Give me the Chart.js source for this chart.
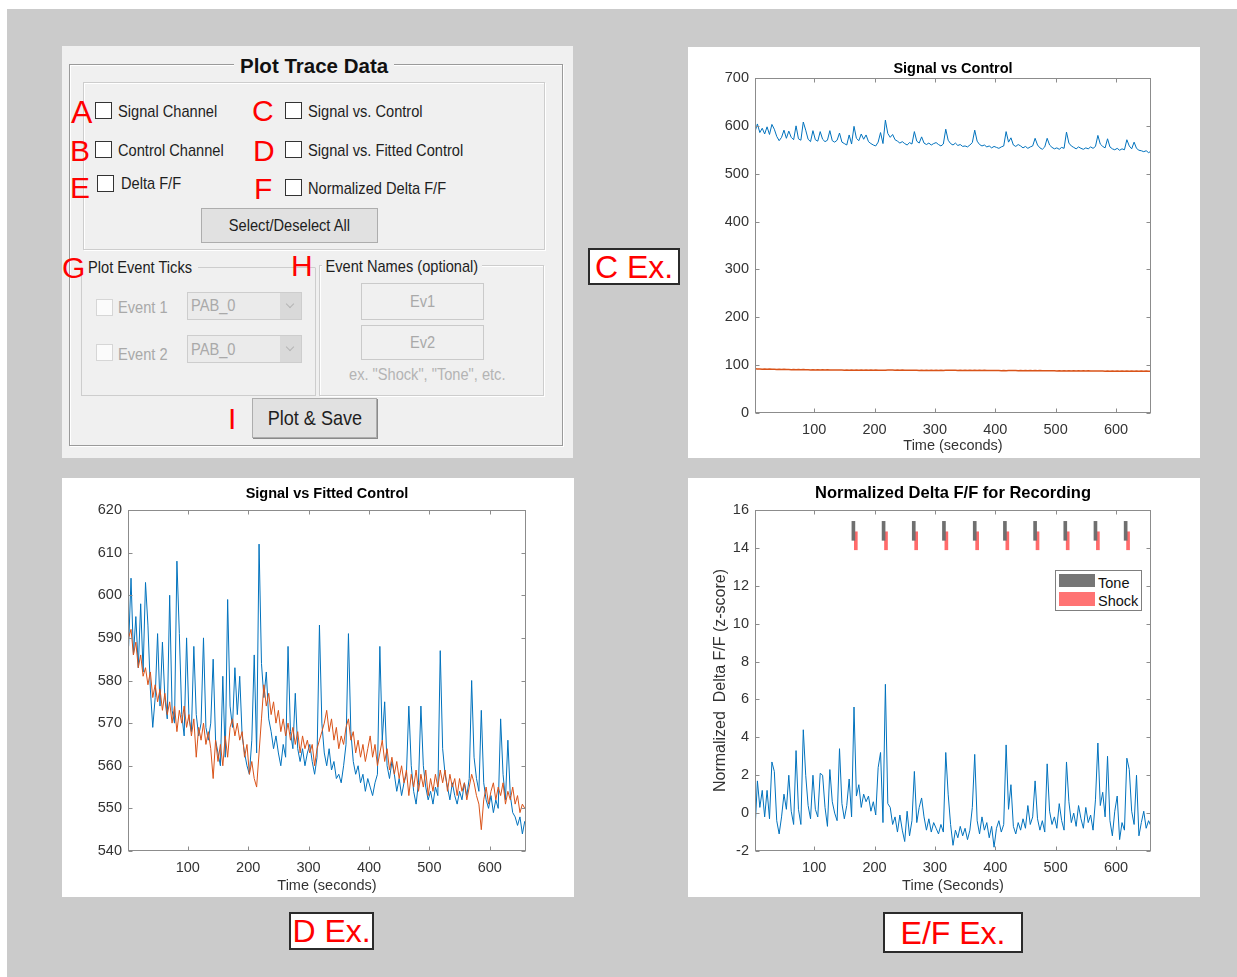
<!DOCTYPE html>
<html>
<head>
<meta charset="utf-8">
<script src="https://cdn.jsdelivr.net/npm/chart.js@4.4.1/dist/chart.umd.min.js"></script>
<style>
  html, body { margin: 0; padding: 0; }
  body { width: 1237px; height: 977px; position: relative; overflow: hidden; background: #fff;
         font-family: "Liberation Sans", Arial, Helvetica, sans-serif; }
  .abs { position: absolute; }
  #bg { left: 7px; top: 9px; width: 1230px; height: 968px; background: #cbcbcb; }
  .panel { background: #fff; }
  .panel canvas { display: block; }
  .gui { background: #f0f0f0; }
  .frame { position: absolute; border: 1px solid #9a9a9a; box-shadow: inset 1px 1px 0 #fff, 1px 1px 0 #fff; }
  .grp { position: absolute; border: 1px solid #cdcdcd; box-shadow: inset 1px 1px 0 #fff, 1px 1px 0 #fff; }
  .line { position: absolute; background: #cdcdcd; height: 1px; }
  .t { position: absolute; font-size: 17px; line-height: 17px; white-space: nowrap; color: #1e1e1e;
       transform: scaleX(.86); transform-origin: 0 0; }
  .gray { color: #a9a9a9; }
  .ltr { position: absolute; font-size: 30px; line-height: 30px; color: #f00; }
  .cb { position: absolute; width: 15px; height: 15px; border: 1px solid #333; background: #fff; }
  .cb.off { border-color: #d6d6d6; background: #fbfbfb; }
  .btn { position: absolute; box-sizing: border-box; display: flex; align-items: center; justify-content: center;
         background: #e1e1e1; border: 1px solid #adadad; }
  .btn span { display: inline-block; font-size: 17px; transform: scaleX(.86); color: #1e1e1e; white-space: nowrap; }
  .btn.dis { background: #f0f0f0; border-color: #cacaca; }
  .btn.dis span { color: #a9a9a9; }
  .dd { position: absolute; box-sizing: border-box; background: #ebebeb; border: 1px solid #cdcdcd; }
  .dd .arr { position: absolute; right: 0; top: 0; width: 21px; height: 100%; background: #d9d9d9; }
  .dd .chev { position: absolute; right: 8px; top: 8px; width: 5px; height: 5px;
              border-right: 1px solid #b5b5b5; border-bottom: 1px solid #b5b5b5; transform: rotate(45deg); }
  .exbox { position: absolute; box-sizing: border-box; border: 2px solid #2b2b2b; background: #fff;
           display: flex; align-items: center; justify-content: center; color: #f00; font-size: 32px; line-height: 32px; }
  #legend { left: 1055px; top: 570px; width: 87px; height: 41px; box-sizing: border-box;
            border: 1px solid #7f7f7f; background: #fff; }
  #legend .sw { position: absolute; left: 3px; width: 36px; }
  #legend .lt { position: absolute; left: 42px; font-size: 14.5px; line-height: 14.5px; color: #111; }
</style>
</head>
<body>
<div id="bg" class="abs"></div>

<!-- GUI panel -->
<div class="abs gui" style="left:62px;top:46px;width:511px;height:412px"></div>
<div class="frame" style="left:69px;top:64px;width:492px;height:380px"></div>
<div class="abs" style="left:234px;top:56px;padding:0 6px;background:#f0f0f0;font-weight:bold;font-size:20.5px;line-height:20.5px;color:#111">Plot Trace Data</div>
<div class="grp" style="left:83px;top:82px;width:460px;height:166px"></div>

<div class="ltr" style="left:71px;top:95.8px;font-size:32px;line-height:32px">A</div>
<div class="ltr" style="left:70px;top:136px">B</div>
<div class="ltr" style="left:70px;top:173px">E</div>
<div class="ltr" style="left:252px;top:96px">C</div>
<div class="ltr" style="left:253px;top:136px">D</div>
<div class="ltr" style="left:254px;top:174px">F</div>

<div class="cb" style="left:95px;top:102px"></div>
<div class="cb" style="left:95px;top:141px"></div>
<div class="cb" style="left:97px;top:175px"></div>
<div class="cb" style="left:285px;top:102px"></div>
<div class="cb" style="left:285px;top:141px"></div>
<div class="cb" style="left:285px;top:179px"></div>

<div class="t" style="left:118px;top:102.6px">Signal Channel</div>
<div class="t" style="left:118px;top:141.6px">Control Channel</div>
<div class="t" style="left:121px;top:175px">Delta F/F</div>
<div class="t" style="left:308px;top:102.6px">Signal vs. Control</div>
<div class="t" style="left:308px;top:141.6px">Signal vs. Fitted Control</div>
<div class="t" style="left:308px;top:179.6px">Normalized Delta F/F</div>

<div class="btn" style="left:201px;top:208px;width:177px;height:35px"><span>Select/Deselect All</span></div>

<!-- event ticks group -->
<div class="grp" style="left:81px;top:267px;width:233px;height:127px;border-top-color:transparent;box-shadow:none"></div>
<div class="line" style="left:198px;top:267px;width:117px"></div>
<div class="ltr" style="left:62px;top:253px">G</div>
<div class="t" style="left:88px;top:258.6px">Plot Event Ticks</div>
<div class="cb off" style="left:96px;top:299px"></div>
<div class="cb off" style="left:96px;top:344px"></div>
<div class="t gray" style="left:118px;top:298.6px">Event 1</div>
<div class="t gray" style="left:118px;top:345.6px">Event 2</div>
<div class="dd" style="left:187px;top:292px;width:115px;height:28px"><div class="arr"></div><div class="chev"></div></div>
<div class="dd" style="left:187px;top:335px;width:115px;height:28px"><div class="arr"></div><div class="chev"></div></div>
<div class="t gray" style="left:191px;top:297px">PAB_0</div>
<div class="t gray" style="left:191px;top:340.6px">PAB_0</div>

<!-- event names group -->
<div class="grp" style="left:319px;top:265px;width:223px;height:129px"></div>
<div class="ltr" style="left:291px;top:251px">H</div>
<div class="t" style="left:322px;top:257.6px;background:#f0f0f0;padding:0 4px">Event Names (optional)</div>
<div class="btn dis" style="left:361px;top:283px;width:123px;height:37px"><span>Ev1</span></div>
<div class="btn dis" style="left:361px;top:325px;width:123px;height:35px"><span>Ev2</span></div>
<div class="t" style="left:349px;top:365.6px;color:#b4b4b4">ex. "Shock", "Tone", etc.</div>

<div class="ltr" style="left:228px;top:404px">I</div>
<div class="btn" style="left:252px;top:398px;width:125px;height:40px;box-shadow:1px 1px 0 #8a8a8a"><span style="font-size:21px">Plot &amp; Save</span></div>

<!-- charts -->
<div class="abs panel" style="left:688px;top:47px;width:512px;height:411px"><canvas id="c1" width="512" height="411"></canvas></div>
<div class="abs panel" style="left:62px;top:478px;width:512px;height:419px"><canvas id="c2" width="512" height="419"></canvas></div>
<div class="abs panel" style="left:688px;top:478px;width:512px;height:419px"><canvas id="c3" width="512" height="419"></canvas></div>

<div id="legend" class="abs">
  <div class="sw" style="top:3px;height:13px;background:#767676"></div>
  <div class="sw" style="top:21px;height:14px;background:#ff7373"></div>
  <div class="lt" style="top:4.7px">Tone</div>
  <div class="lt" style="top:22.7px">Shock</div>
</div>

<div class="exbox" style="left:588px;top:248px;width:92px;height:37px">C Ex.</div>
<div class="exbox" style="left:289px;top:912px;width:85px;height:38px">D Ex.</div>
<div class="exbox" style="left:883px;top:912px;width:140px;height:41px">E/F Ex.</div>

<script>
// sample times (s)
const TIME = [2,6,10,14,18,22,26,30,34,38,
  42,46,50,54,58,62,66,70,74,78,
  82,86,90,94,98,102,106,110,114,118,
  122,126,130,134,138,142,146,150,154,158,
  162,166,170,174,178,182,186,190,194,198,
  202,206,210,214,218,222,226,230,234,238,
  242,246,250,254,258,262,266,270,274,278,
  282,286,290,294,298,302,306,310,314,318,
  322,326,330,334,338,342,346,350,354,358,
  362,366,370,374,378,382,386,390,394,398,
  402,406,410,414,418,422,426,430,434,438,
  442,446,450,454,458,462,466,470,474,478,
  482,486,490,494,498,502,506,510,514,518,
  522,526,530,534,538,542,546,550,554,558,
  562,566,570,574,578,582,586,590,594,598,
  602,606,610,614,618,622,626,630,634,638,
  642,646,650,654,658];

// signal channel
const SIGNAL = [588,604,586,595,583,598,582,603,593,578,
  569,576,591,574,589,576,571,600,573,570,
  608,591,572,567,590,571,568,588,572,567,
  570,590,569,566,570,585,566,563,560,581,
  562,599,574,569,583,572,581,567,563,560,
  558,566,586,563,612,584,576,582,571,568,
  564,567,563,560,565,562,588,568,564,577,
  564,561,564,560,563,565,561,558,562,593,
  570,563,560,564,559,561,557,558,556,560,
  565,591,568,561,558,560,556,558,554,557,
  555,553,556,558,588,566,575,560,557,561,
  558,554,557,553,556,558,574,560,554,551,
  556,574,560,555,552,554,551,555,553,587,
  564,558,555,552,556,553,551,554,552,556,
  553,557,580,562,557,554,573,556,552,550,
  553,549,552,550,571,558,552,566,553,549,
  548,546,548,544,547];

// control channel (raw)
const CONTROL = [92.3,91.8,92.1,91.6,91.9,91.4,91.7,91.2,91.5,91.0,
  91.3,90.9,91.2,90.7,91.0,90.6,90.9,90.4,90.8,90.3,
  90.7,90.2,90.6,90.1,90.5,90.0,90.4,89.9,90.3,89.8,
  90.2,89.8,90.1,89.7,90.0,89.6,89.9,89.5,89.9,89.4,
  89.8,89.4,89.8,89.3,89.7,89.3,89.7,89.2,89.6,89.2,
  89.6,89.1,89.5,89.1,89.5,89.9,89.6,89.8,89.4,89.7,
  89.3,89.6,89.2,89.5,89.1,89.5,89.1,89.4,89.0,89.4,
  89.0,89.3,88.9,89.3,88.9,89.2,88.8,89.2,88.8,89.1,
  89.2,89.5,89.1,89.4,89.0,89.3,88.9,89.3,88.9,89.2,
  88.8,89.2,88.8,89.1,88.7,89.1,88.7,89.0,88.6,89.0,
  88.6,88.9,88.5,88.9,88.5,88.8,89.0,88.7,88.9,88.5,
  88.8,88.4,88.7,88.3,88.7,88.3,88.6,88.2,88.6,88.2,
  88.5,88.1,88.5,88.1,88.4,88.0,88.4,88.0,88.3,87.9,
  88.3,87.9,88.2,87.8,88.2,87.8,88.1,87.7,88.1,87.7,
  88.0,87.6,88.0,87.6,87.9,87.5,87.9,87.5,87.8,87.4,
  87.8,87.4,87.7,87.3,87.7,87.3,87.6,87.2,87.6,87.2,
  87.5,87.1,87.5,87.1,87.4];

// fitted control
const FITTED = [590,592,586,589,583,586,581,583,579,582,
  576,579,575,578,573,577,572,575,570,574,
  568,573,570,574,569,572,567,571,562,569,
  566,570,565,568,564,557,566,561,565,560,
  567,562,569,571,567,570,566,568,562,565,
  558,561,557,555,563,571,579,574,577,572,
  575,570,573,568,571,567,570,566,569,565,
  568,563,567,564,566,563,565,560,564,566,
  568,570,573,568,571,566,569,564,567,565,
  569,571,566,568,563,566,562,565,561,564,
  567,562,565,560,563,566,561,564,559,562,
  558,561,557,560,556,559,553,558,555,559,
  554,558,555,559,553,557,554,558,555,559,
  556,559,554,558,555,557,553,557,554,556,
  552,555,558,556,553,551,545,552,555,551,
  554,556,552,555,553,556,551,554,552,555,
  551,553,549,551,550];

// normalized delta F/F (z-score)
const ZSCORE = [-0.9,1.7,0.3,1.2,-0.2,1.2,-0.3,2.7,2.2,-0.4,
  -1.1,-0.2,1.0,0.2,2.0,0.1,-0.6,3.3,0.2,-0.6,
  4.4,2.0,0.4,-0.3,2.0,0.2,-0.2,2.1,2.0,0.3,
  -0.7,2.3,0.6,0.0,-0.4,3.4,0.5,-0.3,0.4,1.8,
  -0.2,5.6,0.9,1.5,0.3,1.0,0.6,0.9,0.1,0.6,
  -0.1,2.4,3.2,-0.5,6.8,0.5,0.3,-0.6,-0.2,-1.0,
  -0.1,-0.9,-1.5,0.1,-1.2,-0.4,2.2,-0.5,0.3,0.8,
  -0.2,-0.9,-0.3,-1.0,-0.5,-0.8,-1.1,-0.6,-1.0,3.2,
  1.0,-0.6,-1.7,-0.9,-1.3,-0.7,-1.2,-0.8,-1.4,-0.9,
  0.3,3.1,-0.4,-1.1,-0.2,-0.9,-0.5,-1.3,-0.7,-1.8,
  -0.8,-0.4,-1.0,-0.6,3.6,0.2,1.5,-0.7,-1.1,-0.5,
  -0.9,-0.3,-0.8,0.4,-0.6,-0.2,1.7,-0.3,-0.9,-0.4,
  -1.0,2.6,0.1,-0.6,-0.2,-0.8,0.5,-0.4,-0.9,2.7,
  0.6,-0.5,0.0,-0.7,0.4,-0.3,-0.8,0.3,-0.5,-0.1,
  -0.9,0.7,3.7,0.4,1.1,-0.2,3.0,-0.4,-1.2,0.1,
  0.9,-1.4,-0.5,-0.9,2.9,2.3,0.1,-0.6,2.0,-1.2,
  -0.5,0.1,-0.8,-0.4,-0.7];

// event epochs (s)
const TONE_ON   = [163,213,263,313,364,414,464,514,564,614];
const TONE_OFF  = [167,217,267,317,368,418,468,518,568,618];
const SHOCK_ON  = [167,217,267,317,368,418,468,518,568,618];
const SHOCK_OFF = [171,221,271,321,372,422,472,522,572,622];

const X_TICKS  = [100,200,300,400,500,600];
const Y_TICKS1 = [0,100,200,300,400,500,600,700];
const Y_TICKS2 = [540,550,560,570,580,590,600,610,620];
const Y_TICKS3 = [-2,0,2,4,6,8,10,12,14,16];

const BLUE = '#0072BD';
const ORANGE = '#D95319';
const TEXT = '#333';

Chart.defaults.font.family = '"Liberation Sans", Arial, Helvetica, sans-serif';
Chart.defaults.color = TEXT;

function timeSeries(values) {
  return TIME.map((t, i) => ({ x: t, y: values[i] }));
}

function fixedTicks(list) {
  return scale => { scale.ticks = list.map(v => ({ value: v })); };
}

// matlab style box with inward ticks on all four sides
const matlabBox = {
  id: 'matlabBox',
  afterDatasetsDraw(chart) {
    const { ctx, chartArea: a, scales: { x, y } } = chart;
    const L = Math.round(a.left) + 0.5, R = Math.round(a.right) - 0.5;
    const T = Math.round(a.top) + 0.5, B = Math.round(a.bottom) - 0.5;
    ctx.save();
    ctx.strokeStyle = '#8c8c8c';
    ctx.lineWidth = 1;
    ctx.strokeRect(L, T, R - L, B - T);
    ctx.beginPath();
    x.ticks.forEach(t => {
      const px = Math.round(x.getPixelForValue(t.value)) + 0.5;
      ctx.moveTo(px, B); ctx.lineTo(px, B - 4);
      ctx.moveTo(px, T); ctx.lineTo(px, T + 4);
    });
    y.ticks.forEach(t => {
      const py = Math.round(y.getPixelForValue(t.value)) + 0.5;
      ctx.moveTo(L, py); ctx.lineTo(L + 4, py);
      ctx.moveTo(R, py); ctx.lineTo(R - 4, py);
    });
    ctx.stroke();
    ctx.restore();
  }
};

function options(o) {
  return {
    responsive: false,
    animation: false,
    events: [],
    layout: { padding: { left: 0, right: o.padRight, top: 0, bottom: 0 } },
    plugins: {
      legend: { display: false },
      tooltip: { enabled: false },
      title: {
        display: true, text: o.title, color: '#000', fullSize: false,
        font: { size: o.titleSize, weight: 'bold' },
        padding: { top: o.titleTop, bottom: o.titleBottom }
      }
    },
    scales: {
      x: {
        type: 'linear', min: o.xMin, max: o.xMax, bounds: 'data', offset: false,
        afterBuildTicks: fixedTicks(X_TICKS),
        afterFit: s => { s.height = o.xHeight; },
        grid: { display: false, drawTicks: false },
        border: { display: false },
        ticks: { padding: 8, color: TEXT, font: { size: 14.5 }, maxRotation: 0, autoSkip: false },
        title: { display: true, text: o.xTitle, color: TEXT, font: { size: 14.5 },
                 padding: { top: 0, bottom: o.xTitlePad } }
      },
      y: {
        type: 'linear', min: o.yTicks[0], max: o.yTicks[o.yTicks.length - 1], bounds: 'data',
        afterBuildTicks: fixedTicks(o.yTicks),
        afterFit: s => { s.width = o.yWidth; },
        grid: { display: false, drawTicks: false },
        border: { display: false },
        ticks: { padding: 6, color: TEXT, font: { size: 14.5 } },
        title: o.yTitle
          ? { display: true, text: o.yTitle, color: TEXT, font: { size: 16 }, padding: { top: o.yTitlePad, bottom: 0 } }
          : { display: false }
      }
    }
  };
}

function line(label, values, color, width) {
  return { type: 'line', label, data: timeSeries(values), borderColor: color, borderWidth: width,
           pointRadius: 0, tension: 0, fill: false };
}

new Chart(document.getElementById('c1'), {
  type: 'line',
  data: { datasets: [
    line('Signal', SIGNAL, BLUE, 1),
    line('Control', CONTROL, ORANGE, 1.5)
  ] },
  options: options({ title: 'Signal vs Control', titleSize: 14.5, titleTop: 13.3, titleBottom: 0.3,
    xMin: 2, xMax: 658, xHeight: 45, xTitle: 'Time (seconds)', xTitlePad: 3.3,
    yTicks: Y_TICKS1, yWidth: 67, padRight: 49 }),
  plugins: [matlabBox]
});

new Chart(document.getElementById('c2'), {
  type: 'line',
  data: { datasets: [
    line('Fitted Control', FITTED, ORANGE, 1),
    line('Signal', SIGNAL, BLUE, 1)
  ] },
  options: options({ title: 'Signal vs Fitted Control', titleSize: 14.5, titleTop: 7.3, titleBottom: 7.3,
    xMin: 1, xMax: 660, xHeight: 46, xTitle: 'Time (seconds)', xTitlePad: 2.3,
    yTicks: Y_TICKS2, yWidth: 66, padRight: 48 }),
  plugins: [matlabBox]
});

// rows where the event ticks sit, in z-score units
const TONE_ROW = [14.4, 15.4];
const SHOCK_ROW = [13.9, 14.85];

new Chart(document.getElementById('c3'), {
  type: 'line',
  data: { datasets: [
    line('Normalized Delta F/F', ZSCORE, BLUE, 1),
    { type: 'bar', label: 'Tone', grouped: false, barThickness: 3, borderWidth: 0,
      backgroundColor: '#6f6f6f',
      data: TONE_ON.map((on, i) => ({ x: (on + TONE_OFF[i]) / 2, y: TONE_ROW })) },
    { type: 'bar', label: 'Shock', grouped: false, barThickness: 3, borderWidth: 0,
      backgroundColor: '#ff6b6b',
      data: SHOCK_ON.map((on, i) => ({ x: (on + SHOCK_OFF[i]) / 2, y: SHOCK_ROW })) }
  ] },
  options: options({ title: 'Normalized Delta F/F for Recording', titleSize: 16.5, titleTop: 5.1, titleBottom: 7.1,
    xMin: 2, xMax: 658, xHeight: 46, xTitle: 'Time (Seconds)', xTitlePad: 2.3,
    yTicks: Y_TICKS3, yWidth: 67, padRight: 49,
    yTitle: 'Normalized  Delta F/F (z-score)', yTitlePad: 23.4 }),
  plugins: [matlabBox]
});
</script>
</body>
</html>
